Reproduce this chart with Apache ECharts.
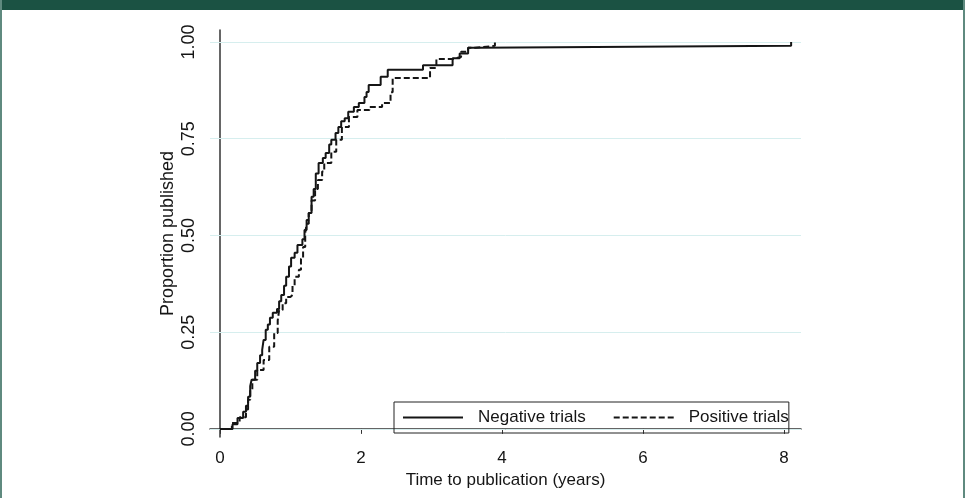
<!DOCTYPE html>
<html>
<head>
<meta charset="utf-8">
<script src="https://cdn.jsdelivr.net/npm/echarts@6/dist/echarts.min.js"></script>
<style>
  html, body { margin: 0; padding: 0; background: #fff; }
  #chart { width: 965px; height: 498px; }
</style>
</head>
<body>
<div id="chart"></div>
<script>
// [years, proportion], step curves
const negativeTrials = [
  [0, 0], [0.14, 0], [0.18, 0.012], [0.25, 0.028], [0.33, 0.044], [0.37, 0.06],
  [0.40, 0.083], [0.43, 0.11], [0.45, 0.127], [0.50, 0.15], [0.53, 0.17], [0.57, 0.19],
  [0.60, 0.204], [0.62, 0.23], [0.65, 0.256], [0.68, 0.27], [0.71, 0.287], [0.75, 0.30],
  [0.81, 0.31], [0.84, 0.33], [0.87, 0.346], [0.91, 0.37], [0.94, 0.393], [0.98, 0.42],
  [1.01, 0.442], [1.06, 0.455], [1.10, 0.475], [1.17, 0.49], [1.20, 0.514], [1.23, 0.54],
  [1.26, 0.558], [1.30, 0.60], [1.33, 0.62], [1.36, 0.66], [1.40, 0.687], [1.46, 0.70],
  [1.50, 0.713], [1.55, 0.735], [1.58, 0.747], [1.64, 0.765], [1.68, 0.78], [1.72, 0.795],
  [1.77, 0.803], [1.82, 0.82], [1.90, 0.832], [1.97, 0.842], [2.05, 0.858], [2.08, 0.871],
  [2.11, 0.889], [2.28, 0.91], [2.38, 0.928], [2.88, 0.94], [3.30, 0.958], [3.40, 0.97],
  [3.52, 0.985], [3.66, 0.99], [8.10, 1.0]
];
const positiveTrials = [
  [0, 0], [0.12, 0], [0.17, 0.015], [0.28, 0.03], [0.37, 0.05], [0.40, 0.075],
  [0.43, 0.10], [0.46, 0.127], [0.53, 0.152], [0.62, 0.178], [0.70, 0.212], [0.77, 0.248],
  [0.82, 0.28], [0.84, 0.307], [0.89, 0.325], [0.94, 0.341], [1.00, 0.346], [1.03, 0.37],
  [1.06, 0.393], [1.12, 0.411], [1.15, 0.44], [1.18, 0.47], [1.21, 0.506], [1.23, 0.53],
  [1.26, 0.558], [1.30, 0.59], [1.35, 0.62], [1.39, 0.643], [1.45, 0.665], [1.48, 0.687],
  [1.58, 0.716], [1.65, 0.747], [1.73, 0.78], [1.83, 0.806], [1.95, 0.824], [2.12, 0.832],
  [2.30, 0.842], [2.42, 0.87], [2.45, 0.907], [2.98, 0.933], [3.07, 0.956], [3.30, 0.961],
  [3.42, 0.975], [3.52, 0.985], [3.62, 0.99], [3.90, 1.0]
];
const xTicks = [0, 2, 4, 6, 8];
const yTicks = [0, 0.25, 0.5, 0.75, 1];

const font = "Liberation Sans, Arial, sans-serif";
const ink = "#151515";

const chart = echarts.init(document.getElementById("chart"));
chart.setOption({
  animation: false,
  backgroundColor: "#fff",
  graphic: [
    // page frame
    { type: "rect", left: 0, top: 0, shape: { width: 965, height: 10 }, style: { fill: "#1b5243" } },
    { type: "rect", left: 0, top: 0, shape: { width: 2, height: 498 }, style: { fill: "#5f8a7f" } },
    { type: "rect", right: 0, top: 0, shape: { width: 2, height: 498 }, style: { fill: "#5f8a7f" } }
  ],
  grid: { left: 210, right: 164, top: 30, bottom: 61 },
  legend: {
    left: 394,
    top: 402,
    orient: "horizontal",
    itemWidth: 60,
    itemHeight: 14,
    itemGap: 27,
    padding: [7, 0, 7, 8],
    borderColor: "#222",
    borderWidth: 1,
    itemStyle: { opacity: 0 },
    textStyle: { fontFamily: font, fontSize: 17, color: ink, padding: [0, 0, 0, 10] },
    data: ["Negative trials", "Positive trials"]
  },
  xAxis: {
    type: "value",
    min: -0.14,
    max: 8.24,
    name: "Time to publication (years)",
    nameLocation: "middle",
    nameGap: 35,
    nameTextStyle: { fontFamily: font, fontSize: 17, color: ink },
    axisLine: { show: true, lineStyle: { color: "#333", width: 1.5 } },
    axisTick: { show: true, length: 5, customValues: xTicks, lineStyle: { color: "#333" } },
    axisLabel: { customValues: xTicks, margin: 13, fontFamily: font, fontSize: 17, color: ink },
    splitLine: { show: false }
  },
  yAxis: {
    type: "value",
    min: -0.021,
    max: 1.031,
    name: "Proportion published",
    nameLocation: "middle",
    nameGap: 33,
    nameMoveOverlap: false,
    nameTextStyle: { fontFamily: font, fontSize: 18, color: ink },
    axisLine: { show: true, lineStyle: { color: "#333", width: 1.5 } },
    axisTick: { show: true, length: 5, customValues: yTicks, lineStyle: { color: "#333" } },
    axisLabel: {
      customValues: yTicks, rotate: 90, margin: 12,
      fontFamily: font, fontSize: 18, color: ink,
      formatter: v => v.toFixed(2)
    },
    splitLine: { show: false }
  },
  series: [
    {
      name: "Negative trials",
      type: "line",
      step: "end",
      symbol: "none",
      data: negativeTrials,
      lineStyle: { color: ink, width: 2 },
      itemStyle: { color: ink },
      markLine: {
        silent: true,
        symbol: "none",
        label: { show: false },
        lineStyle: { color: "#d6eeee", width: 1, type: "solid" },
        z: 1,
        data: yTicks.map(v => ({ yAxis: v }))
      },
      z: 3
    },
    {
      name: "Positive trials",
      type: "line",
      step: "end",
      symbol: "none",
      data: positiveTrials,
      lineStyle: { color: ink, width: 2, type: [6, 3] },
      itemStyle: { color: ink },
      z: 3
    }
  ]
});
</script>
</body>
</html>
